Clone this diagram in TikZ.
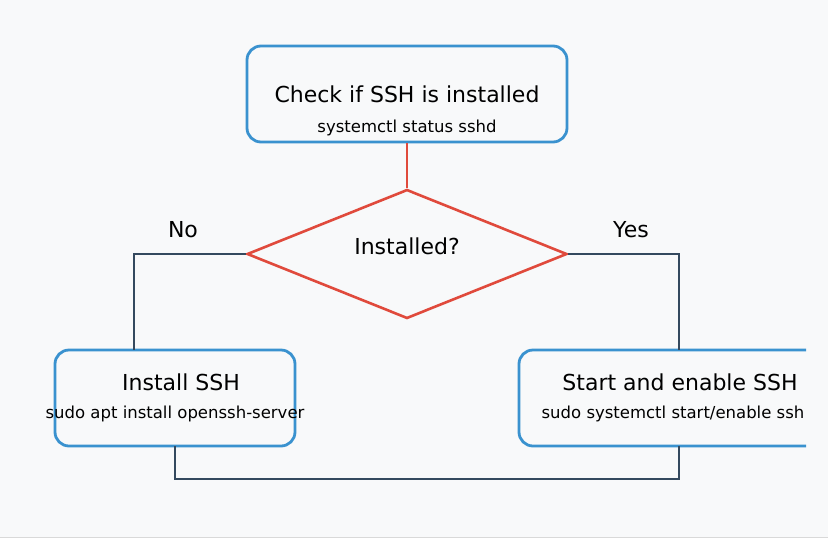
\documentclass[tikz,border=0pt]{standalone}
\usepackage{fontspec}
\setmainfont{DejaVu Sans}
\usetikzlibrary{shapes.geometric,positioning}
\definecolor{boxblue}{HTML}{3A92CF}
\definecolor{flowred}{HTML}{E04A3C}
\definecolor{flowdark}{HTML}{34495E}
\definecolor{bgpaper}{HTML}{F8F9FA}
\tikzset{
  stepbox/.style={draw=boxblue, line width=2.8pt, rounded corners=14pt, fill=bgpaper, inner sep=0pt},
  title/.style={font=\fontsize{22}{25}\selectfont},
  cmd/.style={font=\fontsize{16.5}{19}\selectfont},
  flow/.style={draw=flowdark, line width=2.6pt},
}
\begin{document}
\begin{tikzpicture}[x=1pt,y=-1pt]
    \useasboundingbox (0,0) rectangle (828,550);
    % background
    \fill[bgpaper] (0,0) rectangle (828,537);
    \draw[gray!30, line width=1pt] (0,537) -- (828,537);

    % TOP: the check
    \node[stepbox, minimum width=320, minimum height=96] (check) at (407,94) {};
    \node[title] (checktxt) at (407,94) {Check if SSH is installed};
    \node[cmd] (checkcmd) at (407,128) {systemctl status sshd};

    % MIDDLE: the decision
    \node[diamond, draw=flowred, line width=2.6pt, fill=bgpaper, inner sep=0pt,
          minimum width=320, minimum height=129] (installed) at (407,254) {};
    \node[title] (installedtxt) at (407,246) {Installed?};
    \draw[flowred, line width=2.6pt] (check.south) -- (installed.north);

    % LEFT: install
    \node[stepbox, minimum width=240, minimum height=96] (install) at (175,398) {};
    \node[title] (installtxt) at (181,382) {Install SSH};
    \node[cmd] (installcmd) at (175,414) {sudo apt install openssh-server};

    % RIGHT: start (runs off the edge)
    \begin{scope}
        \clip (0,0) rectangle (806,550);
        \node[stepbox, minimum width=312, minimum height=96] (start) at (675,398) {};
    \end{scope}
    \node[title] (starttxt) at (680,382) {Start and enable SSH};
    \node[cmd] (startcmd) at (673,414) {sudo systemctl start/enable ssh};

    % Branches
    \coordinate (noin) at (134,350);
    \coordinate (yesin) at (679,350);
    \coordinate (installout) at (175,446);
    \coordinate (startout) at (679,446);
    \draw[flow] (installed.west) -| (noin);
    \node[title] (nolbl) at (183,230) {No};
    \draw[flow] (installed.east) -| (yesin);
    \node[title] (yeslbl) at (631,230) {Yes};
    \draw[flow] (installout) |- (679,479) -- (startout);
\end{tikzpicture}
\end{document}
